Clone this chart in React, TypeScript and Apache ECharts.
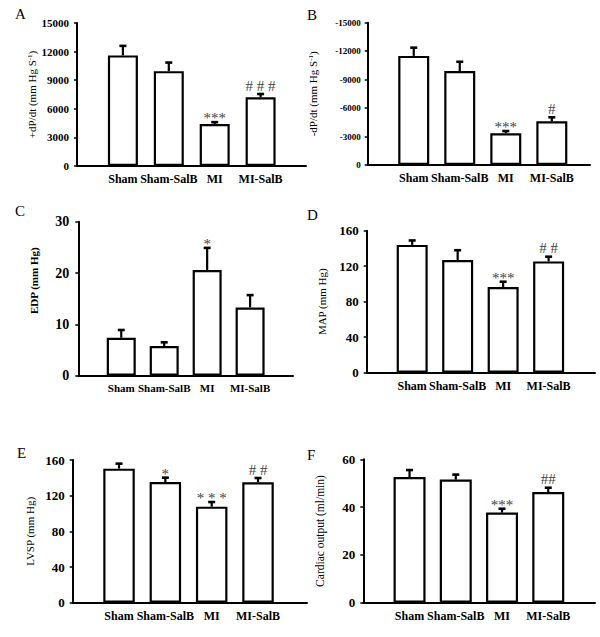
import React, { useEffect, useRef } from "react";
import * as echarts from "echarts";

// ---------- data ----------
const CATEGORIES = ["Sham", "Sham-SalB", "MI", "MI-SalB"];

const A_VALUES = [11600, 9950, 4400, 7200];
const A_ERRORS = [1000, 900, 200, 350];
const A_MARKS = ["", "", "***", "# # #"];

const B_VALUES = [-11500, -9900, -3350, -4600];
const B_ERRORS = [870, 980, 230, 430];
const B_MARKS = ["", "", "***", "#"];

const C_VALUES = [7.4, 5.8, 20.6, 13.3];
const C_ERRORS = [1.5, 0.7, 4.3, 2.4];
const C_MARKS = ["", "", "*", ""];

const D_VALUES = [144, 127, 96.5, 125.4];
const D_ERRORS = [5, 11, 6, 5.3];
const D_MARKS = ["", "", "***", "# #"];

const E_VALUES = [150.3, 135.3, 107.7, 135];
const E_ERRORS = [5.6, 4.9, 5.2, 4.8];
const E_MARKS = ["", "*", "* * *", "# #"];

const F_VALUES = [52.6, 51.5, 37.7, 46.3];
const F_ERRORS = [2.9, 2.1, 1.6, 1.8];
const F_MARKS = ["", "", "***", "##"];

const PANEL_LETTERS = ["A", "B", "C", "D", "E", "F"];
const Y_NAMES = [
  "+dP/dt (mm Hg S{sup|-1})",
  "-dP/dt (mm Hg S{sup|-1})",
  "EDP (mm Hg)",
  "MAP (mm Hg)",
  "LVSP (mm Hg)",
  "Cardiac output (ml/min)",
];
const Y_RANGES = [
  { min: 0, max: 15000, interval: 3000 },
  { min: -15000, max: 0, interval: 3000 },
  { min: 0, max: 30, interval: 10 },
  { min: 0, max: 160, interval: 40 },
  { min: 0, max: 160, interval: 40 },
  { min: 0, max: 60, interval: 20 },
];

// ---------- layout / style ----------
const FONT = "'Liberation Serif', 'Times New Roman', serif";

const LAYOUT = [
  { left: 77, top: 23, y0: 166, step: 45.9, xEnd: 306, barWidth: 30, tickFont: 11, catFont: 12, nameFont: 11, nameBold: false, nameGap: 38, namePad: 0, labelMargin: 8, inverse: false, letter: [15, 6] },
  { left: 367.7, top: 22.7, y0: 165, step: 46.03, xEnd: 590, barWidth: 31, tickFont: 9, catFont: 12, nameFont: 11, nameBold: false, nameGap: 49, namePad: 0, labelMargin: 7, inverse: true, letter: [307, 7] },
  { left: 78.3, top: 221.7, y0: 375.7, step: 42.95, xEnd: 293, barWidth: 29, tickFont: 14, catFont: 11, nameFont: 11, nameBold: true, nameGap: 39, namePad: 36, labelMargin: 9, inverse: false, letter: [15, 203] },
  { left: 366.7, top: 230.7, y0: 372.7, step: 45.48, xEnd: 595, barWidth: 31, tickFont: 13, catFont: 12, nameFont: 11, nameBold: false, nameGap: 39, namePad: 0, labelMargin: 8, inverse: false, letter: [307, 207] },
  { left: 72.7, top: 460, y0: 602.7, step: 46.33, xEnd: 307, barWidth: 31.5, tickFont: 13, catFont: 12, nameFont: 11, nameBold: false, nameGap: 37, namePad: 0, labelMargin: 8, inverse: false, letter: [17, 445] },
  { left: 363.3, top: 459.3, y0: 602.7, step: 46.24, xEnd: 595, barWidth: 32, tickFont: 13, catFont: 12, nameFont: 11.5, nameBold: false, nameGap: 37, namePad: 0, labelMargin: 8, inverse: false, letter: [307, 447] },
];

const PANELS = [
  { values: A_VALUES, errors: A_ERRORS, marks: A_MARKS },
  { values: B_VALUES, errors: B_ERRORS, marks: B_MARKS },
  { values: C_VALUES, errors: C_ERRORS, marks: C_MARKS },
  { values: D_VALUES, errors: D_ERRORS, marks: D_MARKS },
  { values: E_VALUES, errors: E_ERRORS, marks: E_MARKS },
  { values: F_VALUES, errors: F_ERRORS, marks: F_MARKS },
];

function buildOption() {
  const grid: any[] = [];
  const xAxis: any[] = [];
  const yAxis: any[] = [];
  const series: any[] = [];
  const graphic: any[] = [];

  PANELS.forEach((panel, i) => {
    const L = LAYOUT[i];
    const R = Y_RANGES[i];
    grid.push({
      left: L.left,
      top: L.top,
      width: L.xEnd - L.left,
      height: L.y0 - L.top,
      containLabel: false,
    });
    xAxis.push({
      gridIndex: i,
      type: "value",
      min: 0,
      max: (L.xEnd - L.left) / L.step,
      interval: 1,
      axisLine: { show: true, onZero: false, lineStyle: { color: "#000", width: 2 } },
      axisTick: { show: false },
      splitLine: { show: false },
      axisLabel: {
        showMinLabel: true,
        showMaxLabel: true,
        hideOverlap: false,
        margin: 7,
        fontFamily: FONT,
        fontWeight: "bold",
        fontSize: L.catFont,
        color: "#000",
        formatter: (v: number) => {
          const r = Math.round(v);
          if (Math.abs(v - r) > 1e-6) return "";
          return r >= 1 && r <= CATEGORIES.length ? CATEGORIES[r - 1] : "";
        },
      },
    });
    yAxis.push({
      gridIndex: i,
      type: "value",
      min: R.min,
      max: R.max,
      interval: R.interval,
      inverse: L.inverse,
      name: Y_NAMES[i],
      nameLocation: "middle",
      nameGap: L.nameGap,
      nameTextStyle: {
        fontFamily: FONT,
        fontSize: L.nameFont,
        fontWeight: L.nameBold ? "bold" : "normal",
        color: "#000",
        padding: [0, 0, 0, L.namePad],
        rich: {
          sup: { fontFamily: FONT, fontSize: 7, verticalAlign: "top", color: "#000" },
        },
      },
      axisLine: { show: true, lineStyle: { color: "#000", width: 2 } },
      axisTick: { show: true, inside: false, length: 3, lineStyle: { color: "#000", width: 1.5 } },
      splitLine: { show: false },
      axisLabel: {
        fontFamily: FONT,
        fontWeight: "bold",
        fontSize: L.tickFont,
        color: "#000",
        margin: L.labelMargin,
        formatter: (v: number) => String(v),
      },
    });
    series.push({
      type: "bar",
      xAxisIndex: i,
      yAxisIndex: i,
      barWidth: L.barWidth,
      silent: true,
      data: panel.values.map((v, k) => [k + 1, v]),
      itemStyle: { color: "#fff", borderColor: "#000", borderWidth: 2.2 },
      z: 2,
    });
    const marks = panel.marks;
    series.push({
      type: "custom",
      xAxisIndex: i,
      yAxisIndex: i,
      silent: true,
      clip: false,
      z: 3,
      data: panel.values.map((v, k) => [k + 1, v, panel.errors[k]]),
      renderItem: (params: any, api: any) => {
        const x = api.value(0);
        const v = api.value(1);
        const e = api.value(2);
        const sgn = v < 0 ? -1 : 1;
        const p0 = api.coord([x, v]);
        const p1 = api.coord([x, v + sgn * e]);
        const mark = marks[params.dataIndex] || "";
        const off = mark.indexOf("*") >= 0 ? 3.5 : -1;
        return {
          type: "group",
          children: [
            { type: "line", shape: { x1: p0[0], y1: p0[1], x2: p1[0], y2: p1[1] }, style: { stroke: "#000", lineWidth: 2.2 } },
            { type: "line", shape: { x1: p1[0] - 3.5, y1: p1[1], x2: p1[0] + 3.5, y2: p1[1] }, style: { stroke: "#000", lineWidth: 2.6 } },
            {
              type: "text",
              x: p1[0],
              y: p1[1] + off,
              style: {
                text: mark,
                fill: "#444",
                fontFamily: FONT,
                fontSize: 15,
                align: "center",
                verticalAlign: "bottom",
              },
            },
          ],
        };
      },
    });
    graphic.push({
      type: "text",
      left: L.letter[0],
      top: L.letter[1],
      style: { text: PANEL_LETTERS[i], fontFamily: FONT, fontSize: 15, fill: "#000" },
    });
  });

  return {
    animation: false,
    backgroundColor: "#fff",
    grid,
    xAxis,
    yAxis,
    series,
    graphic,
  };
}

export default function App() {
  const ref = useRef<HTMLDivElement>(null);
  useEffect(() => {
    document.body.style.margin = "0";
    if (!ref.current) return;
    const chart = echarts.init(ref.current, null, { renderer: "svg" });
    chart.setOption(buildOption() as any);
    return () => chart.dispose();
  }, []);
  return <div ref={ref} style={{ width: 600, height: 637 }} />;
}
